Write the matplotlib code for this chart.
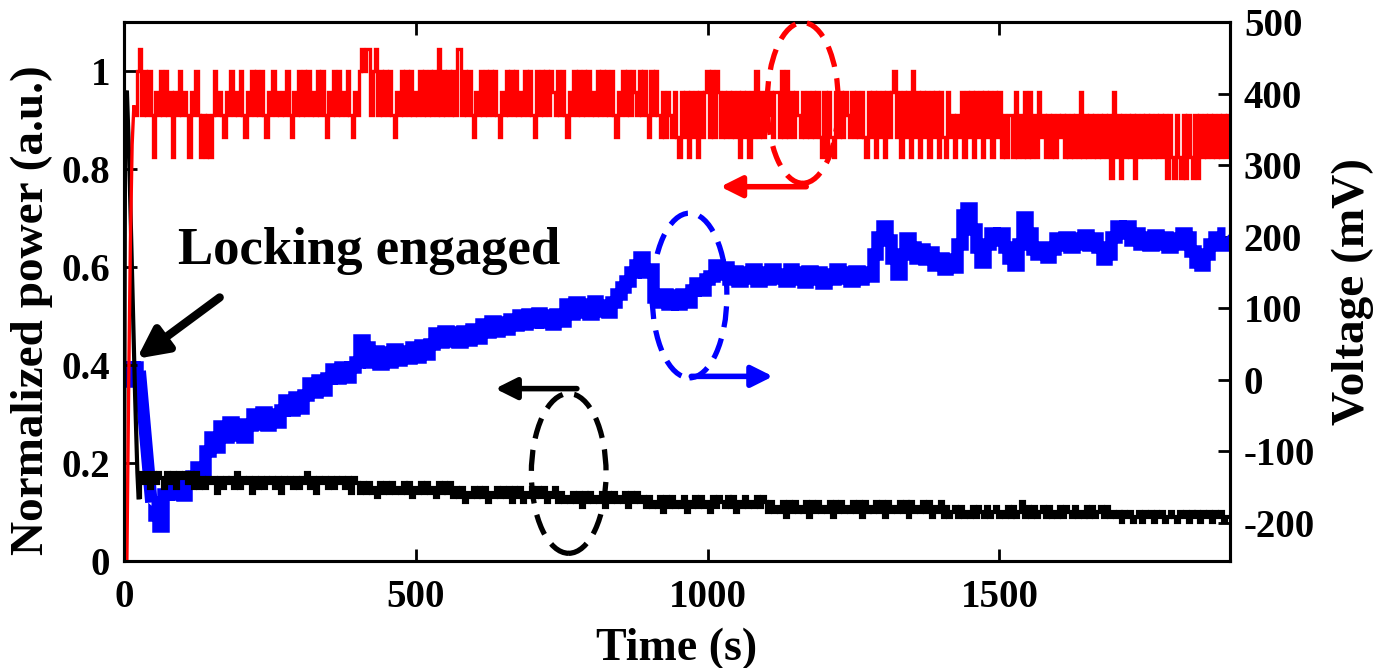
import numpy as np
import matplotlib
matplotlib.use("Agg")
import matplotlib.pyplot as plt
from matplotlib.patches import Ellipse

plt.rcParams["font.family"] = ["Liberation Serif", "DejaVu Serif"]
plt.rcParams["font.weight"] = "bold"
plt.rcParams["axes.labelweight"] = "bold"
plt.rcParams["axes.unicode_minus"] = False

# ---- red trace: normalized power, left axis (quantized levels) ----
red_levels = [0.782, 0.825, 0.866, 0.910, 0.957, 1.000, 1.045]
red_rise_t = [0, 5, 8, 11, 14, 17]
red_rise_v = [0.0, 0.0, 0.35, 0.65, 0.85, 0.93]
red_codes = (
    "3563535314" "3535341435" "34314"   # t 20..116
    "3531313135" "3432435343" "53243"
    "5353532435" "3434353243" "53535"
    "3435353243" "5353435324" "35656"
    "6356353535" "3243535353" "43535"
    "3535363535" "3536635353" "24353"
    "5353532435" "3535343535" "32535"
    "3535435353" "2435353535" "34353"
    "5353532435" "3535435353" "25353"
    "2424324214" "2414241424" "52525"   # t 920..
    "4242424241" "4241425242" "43424"
    "4252524243" "2424242421" "41421"
    "4242432424" "2421424142" "41424"
    "5241424152" "4142414241" "42142"
    "3132414241" "4241424142" "41313"
    "3141314141" "3142313131" "32313"
    "1313141313" "1313131304" "13031"
    "3130313131" "3131313031" "03103"
    "0310303131" "313131313"
)
red_t0, red_dt = 20, 4

# ---- black trace: normalized power, left axis ----
black_rise_t = [0, 2, 5, 9, 14, 19, 23]
black_rise_v = [0.02, 0.93, 0.96, 0.82, 0.58, 0.34, 0.18]
# each char = 0.07 + 0.01 * hex digit
black_codes = (
    "6b9b8b9ba8b9b8bab9b8b"                                        # t 25..
    "8a8a9a7a8a9a8b8a9a7a8a8a9a8a7a9a8a8a9b8a7a9a8a8a9a8a7a9"      # t 130..
    "79797869797978797968797978697979"                             # t 405..
    "686857686868576868685868576868685768"                         # t 565..
    "575657574757565747575657475756"                               # t 745..
    "464546364645463546464536465464635464546465"                   # t 895..
    "3534352535" "3435253534" "3525353435" "3525343535" "2534353525" "3435352435"
    "2423424232" "4243242342" "3242423524" "2423424232" "4243242324" "2423424232"
    "3132312313" "2313231232" "1323132313" "23132312"
)
black_t0, black_dt = 25, 5

# ---- blue trace: voltage (mV), right axis ----
blue_rise_t = [0, 3, 6, 9, 12, 15, 18, 21, 24, 27]
blue_rise_v = [5, 18, 0, 16, -2, 17, 3, 18, 0, 12]
blue_vals = [
    -172, -190, -205, -160, -145, -160, -142, -162, -145, -135,
    -122, -138, -100, -80, -95, -65, -80, -60, -78, -62,
    -80, -64, -48, -62, -45, -63, -48, -60, -42, -28,
    -42, -25, -40, -22, -5, -18, 0, -14, 2, 15,
    2, 18, 4, 17, 25, 55, 45, 25, 40, 22,
    38, 24, 42, 28, 40, 30, 45, 32, 48, 35,
    50, 65, 52, 68, 54, 66, 52, 68, 55, 70,
    58, 78, 66, 82, 68, 80, 70, 84, 76, 90,
    78, 92, 80, 93, 80, 90, 78, 92, 82, 105,
    92, 108, 95, 106, 92, 110, 96, 104, 95, 108,
    120, 130, 138, 150, 160, 172, 150, 155, 115, 108,
    120, 105, 118, 106, 120, 108, 125, 135, 125, 140,
    145, 160, 148, 158, 140, 152, 138, 150, 142, 155,
    138, 150, 140, 155, 142, 148, 138, 155, 140, 150,
    136, 152, 140, 150, 135, 148, 140, 155, 142, 150,
    138, 152, 140, 150, 145, 175, 200, 215, 195, 170,
    148, 175, 198, 185, 170, 182, 168, 178, 160, 170,
    155, 168, 158, 190, 230, 240, 210, 185, 165, 190,
    205, 195, 205, 185, 170, 160, 190, 228, 205, 182,
    175, 185, 172, 182, 198, 188, 200, 185, 198, 190,
    202, 188, 198, 185, 168, 175, 200, 215, 205, 215,
    195, 205, 190, 200, 188, 202, 190, 200, 185, 198,
    190, 205, 200, 180, 165, 160, 175, 190, 200, 188,
    205,
]
blue_t0, blue_dt = 47, 8

x_ticks = [0, 500, 1000, 1500]
left_ticks = [0, 0.2, 0.4, 0.6, 0.8, 1.0]
left_tick_labels = ["0", "0.2", "0.4", "0.6", "0.8", "1"]
right_ticks = [-200, -100, 0, 100, 200, 300, 400, 500]

# build series
red_t = red_t0 + red_dt * np.arange(len(red_codes))
red_v = np.array([red_levels[int(c)] for c in red_codes])
black_t = black_t0 + black_dt * np.arange(len(black_codes))
black_v = np.array([0.07 + 0.01 * int(c, 16) for c in black_codes])
blue_t = blue_t0 + blue_dt * np.arange(len(blue_vals))
blue_v = np.array(blue_vals)

fig = plt.figure(figsize=(13.82, 6.68), dpi=100)
ax = fig.add_axes([0.0897, 0.160, 0.8003, 0.807])
ax2 = ax.twinx()
ax.set_zorder(ax2.get_zorder() + 1)
ax.patch.set_visible(False)

blue_kw = dict(color="#0000FF", lw=9, solid_joinstyle="miter", solid_capstyle="butt")
ax2.plot(blue_rise_t, blue_rise_v, drawstyle="steps-mid", **blue_kw)
ax2.plot([blue_rise_t[-1], blue_t[0]], [blue_rise_v[-1], blue_v[0]], **blue_kw)
ax2.plot(blue_t, blue_v, drawstyle="steps-mid", **blue_kw)

black_kw = dict(color="black", lw=3, solid_joinstyle="miter")
ax.plot(black_rise_t + [black_t[0]], black_rise_v + [black_v[0]], **black_kw)
ax.plot(black_t, black_v, drawstyle="steps-mid", **black_kw)

red_kw = dict(color="#FF0000", lw=2.4, solid_joinstyle="miter")
ax.plot(red_rise_t + [red_t[0]], red_rise_v + [red_v[0]], **red_kw)
ax.plot(red_t, red_v, drawstyle="steps-mid", **red_kw)

ax.set_xlim(0, 1895)
ax.set_ylim(0, 1.1)
ax2.set_ylim(-254, 500)

ax.set_xticks(x_ticks)
ax.set_yticks(left_ticks)
ax.set_yticklabels(left_tick_labels)
ax2.set_yticks(right_ticks)

ax.tick_params(axis="both", direction="in", length=9, width=2, labelsize=28,
               top=True, right=False)
ax.tick_params(axis="y", pad=10)
ax.tick_params(axis="x", pad=13)
ax2.tick_params(axis="y", direction="in", length=9, width=2, labelsize=28, pad=10)
for a in (ax, ax2):
    for s in a.spines.values():
        s.set_linewidth(2.2)

ax.set_xlabel("Time (s)", fontsize=33, labelpad=8)
ax.set_ylabel("Normalized power (a.u.)", fontsize=34)
ax.yaxis.set_label_coords(-0.064, 0.466)
ax2.set_ylabel("Voltage (mV)", fontsize=34, labelpad=12)

# annotation
ax.text(92, 0.607, "Locking engaged", fontsize=38, fontweight="bold",
        ha="left", va="baseline")
ax.annotate("", xy=(22, 0.413), xytext=(164, 0.538),
            arrowprops=dict(arrowstyle="-|>", color="black", lw=6,
                            mutation_scale=45, shrinkA=0, shrinkB=0))

# dashed ellipses with axis arrows
marks = [
    ("#FF0000", (1163, 0.935), 122, 0.328, (1169, 0.764), (1022, 0.764)),
    ("#0000FF", (969, 0.542), 128, 0.336, (972, 0.377), (1112, 0.377)),
    ("black", (762, 0.179), 128, 0.326, (776, 0.352), (636, 0.352)),
]
for col, cen, w, h, tail, head in marks:
    ax.add_patch(Ellipse(cen, w, h, fill=False, edgecolor=col, lw=3.8,
                         linestyle=(0, (4, 2.2)), clip_on=False, zorder=5))
    ax.annotate("", xy=head, xytext=tail,
                arrowprops=dict(arrowstyle="-|>", color=col, lw=4,
                                mutation_scale=32, shrinkA=0, shrinkB=0),
                zorder=5)

fig.savefig("out.png", dpi=100)
